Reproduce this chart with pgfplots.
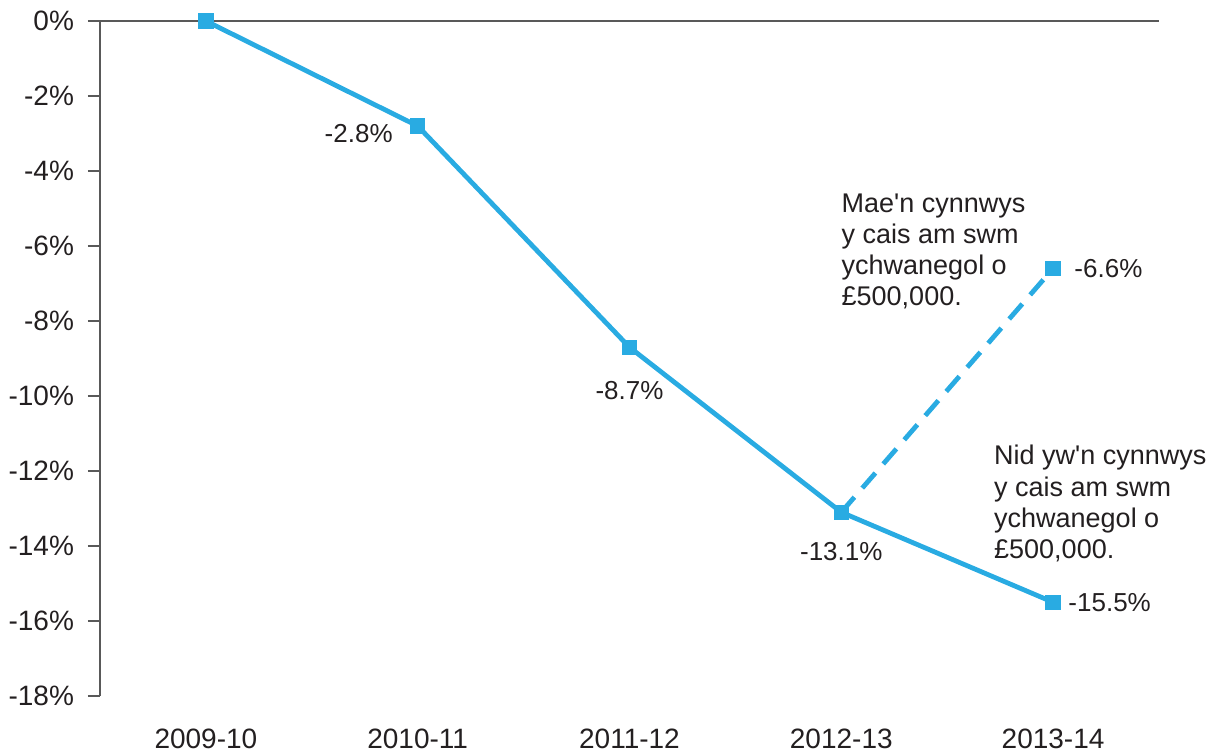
\documentclass[border=0pt]{standalone}
\usepackage{fontspec}
\setmainfont{Liberation Sans}[Ligatures=TeXOff]
\usepackage{pgfplots}
\pgfplotsset{compat=1.18}
\definecolor{lineblue}{HTML}{29ABE2}
\definecolor{axgray}{HTML}{595959}
\definecolor{txt}{HTML}{231F20}
\begin{document}
\begin{tikzpicture}
\begin{axis}[
 at={(0,0)}, anchor=south west,
 scale only axis, width=529.5pt, height=337.5pt,
 xmin=-0.5, xmax=4.5, ymin=-18, ymax=0,
 axis x line*=bottom, axis y line*=left,
 x axis line style={draw=none,-},
 y axis line style={axgray, line width=1pt,-},
 xtick={0,1,2,3,4},
 xticklabels={2009-10,2010-11,2011-12,2012-13,2013-14},
 xtick style={draw=none},
 ytick={-18,-16,...,0},
 ytick style={axgray, line width=1pt},
 tick align=outside, major tick length=6pt,
 yticklabel={\pgfmathprintnumber{\tick}\%},
 /pgf/number format/assume math mode=true,
 ticklabel style={font=\fontsize{14}{16}\selectfont, text=txt},
 yticklabel style={xshift=-3.5pt},
 xticklabel style={yshift=-7pt},
 clip=false,
]
\draw[axgray, line width=1pt] (axis cs:-0.5,0) -- (axis cs:4.5,0);
\addplot[lineblue, line width=2.4pt, dash pattern=on 10pt off 6pt, mark=square*, mark size=3.6pt, mark options={solid, line width=0pt}] coordinates {(3,-13.1)(4,-6.6)};
\addplot[lineblue, line width=2.4pt, mark=square*, mark size=3.6pt, mark options={solid, line width=0pt}] coordinates {(0,0)(1,-2.8)(2,-8.7)(3,-13.1)(4,-15.5)};
\begin{scope}[every node/.style={font=\fontsize{13}{15.5}\selectfont, text=txt, inner sep=0pt}]
\node at ([xshift=-29.5pt,yshift=-4pt]axis cs:1,-2.8) {-2.8\%};
\node at ([yshift=-21.5pt]axis cs:2,-8.7) {-8.7\%};
\node at ([yshift=-19.5pt]axis cs:3,-13.1) {-13.1\%};
\node[anchor=west] at ([xshift=7.5pt]axis cs:4,-15.5) {-15.5\%};
\node[anchor=west] at ([xshift=10.5pt]axis cs:4,-6.6) {-6.6\%};
\node[anchor=north west, align=left, font=\fontsize{13.5}{15.5}\selectfont] at (axis cs:3,-4.6) {Mae'n cynnwys\\y cais am swm\\ychwanegol o\\£500,000.};
\node[anchor=north west, align=left, font=\fontsize{13.5}{15.7}\selectfont] at (axis cs:3.72,-11.3) {Nid yw'n cynnwys\\y cais am swm\\ychwanegol o\\£500,000.};
\end{scope}
\end{axis}
\pgfresetboundingbox
\path[use as bounding box] (-50pt,-30pt) rectangle (553.5pt,348pt);
\end{tikzpicture}
\end{document}
